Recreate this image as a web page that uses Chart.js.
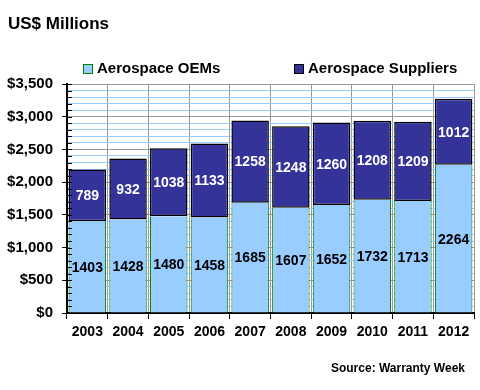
<!DOCTYPE html>
<html>
<head>
<meta charset="utf-8">
<script src="https://cdn.jsdelivr.net/npm/chart.js@4"></script>
<style>
  body { margin: 0; background: #fff; }
  #wrap { width: 480px; height: 390px; position: relative; }
</style>
</head>
<body>
<div id="wrap"><canvas id="chart" width="480" height="390"></canvas></div>
<script>
const years = ['2003', '2004', '2005', '2006', '2007', '2008', '2009', '2010', '2011', '2012'];
const oems = [1403, 1428, 1480, 1458, 1685, 1607, 1652, 1732, 1713, 2264];
const suppliers = [789, 932, 1038, 1133, 1258, 1248, 1260, 1208, 1209, 1012];
const seriesNames = ['Aerospace OEMs', 'Aerospace Suppliers'];

const FONT = '"Liberation Sans", Arial, sans-serif';

// labels inside bars, legend, title and source line
const decor = {
  id: 'decor',
  afterDatasetsDraw(chart) {
    const ctx = chart.ctx;
    const area = chart.chartArea;
    const y = chart.scales.y;

    // short tick marks inside the plot at every 100
    ctx.save();
    ctx.strokeStyle = '#000';
    ctx.lineWidth = 1;
    y.ticks.forEach(t => {
      const py = Math.round(y.getPixelForValue(t.value)) + 0.5;
      ctx.beginPath();
      ctx.moveTo(area.left, py);
      ctx.lineTo(area.left + 5, py);
      ctx.stroke();
    });

    ctx.font = 'bold 14px ' + FONT;
    ctx.textAlign = 'center';
    ctx.textBaseline = 'middle';
    chart.data.datasets.forEach((ds, i) => {
      const meta = chart.getDatasetMeta(i);
      meta.data.forEach((bar, j) => {
        const p = bar.getProps(['x', 'y', 'base'], true);
        ctx.fillStyle = i === 0 ? '#000' : '#fff';
        ctx.fillText(String(ds.data[j]), p.x, (p.y + p.base) / 2 + 1);
      });
    });

    // title
    ctx.textAlign = 'left';
    ctx.fillStyle = '#000';
    ctx.font = 'bold 17px ' + FONT;
    ctx.fillText('US$ Millions', 8, 24);

    // legend
    ctx.font = 'bold 15px ' + FONT;
    const items = [
      { x: 83, fill: '#99ccff', stroke: '#008000' },
      { x: 294, fill: '#333399', stroke: '#000' }
    ];
    items.forEach((it, i) => {
      ctx.fillStyle = it.fill;
      ctx.fillRect(it.x, 64, 9, 9);
      ctx.strokeStyle = it.stroke;
      ctx.lineWidth = 1;
      ctx.strokeRect(it.x + 0.5, 64.5, 9, 9);
      ctx.fillStyle = '#000';
      ctx.fillText(seriesNames[i], it.x + 14, 69);
    });

    // source
    ctx.font = 'bold 12px ' + FONT;
    ctx.textAlign = 'right';
    ctx.fillText('Source: Warranty Week', 465, 369);
    ctx.restore();
  }
};

new Chart(document.getElementById('chart'), {
  type: 'bar',
  data: {
    labels: years,
    datasets: [{
      label: seriesNames[0],
      data: oems,
      backgroundColor: '#99ccff',
      borderColor: '#008000',
      borderWidth: { left: 1, right: 1, top: 0, bottom: 0 },
      borderSkipped: false,
      barPercentage: 0.92,
      categoryPercentage: 1
    }, {
      label: seriesNames[1],
      data: suppliers,
      backgroundColor: '#333399',
      borderColor: '#000',
      borderWidth: 1.5,
      borderSkipped: false,
      barPercentage: 0.92,
      categoryPercentage: 1
    }]
  },
  options: {
    responsive: false,
    animation: false,
    layout: { padding: { left: 0, right: 6, top: 84, bottom: 0 } },
    plugins: { legend: { display: false }, title: { display: false }, tooltip: { enabled: false } },
    scales: {
      x: {
        stacked: true,
        offset: true,
        grid: { offset: true, color: '#999', tickColor: '#000', tickLength: 6 },
        border: { color: '#000', width: 2 },
        ticks: { color: '#000', font: { family: FONT, size: 14, weight: 'bold' }, padding: 5 },
        afterFit: s => { s.height = 77; }
      },
      y: {
        stacked: true,
        min: 0,
        max: 3500,
        grid: {
          color: c => (c.tick && c.tick.value % 500 === 0) ? '#999' : '#99ccff',
          tickColor: c => (c.tick && c.tick.value % 500 === 0) ? '#000' : 'rgba(0,0,0,0)',
          tickLength: 5
        },
        border: { color: '#000', width: 2 },
        ticks: {
          stepSize: 100,
          autoSkip: false,
          color: '#000',
          padding: 9,
          font: { family: FONT, size: 15, weight: 'bold' },
          callback: v => v % 500 === 0 ? '$' + v.toLocaleString('en-US') : ''
        },
        afterFit: s => { s.width = 67; }
      }
    }
  },
  plugins: [decor]
});
</script>
</body>
</html>
